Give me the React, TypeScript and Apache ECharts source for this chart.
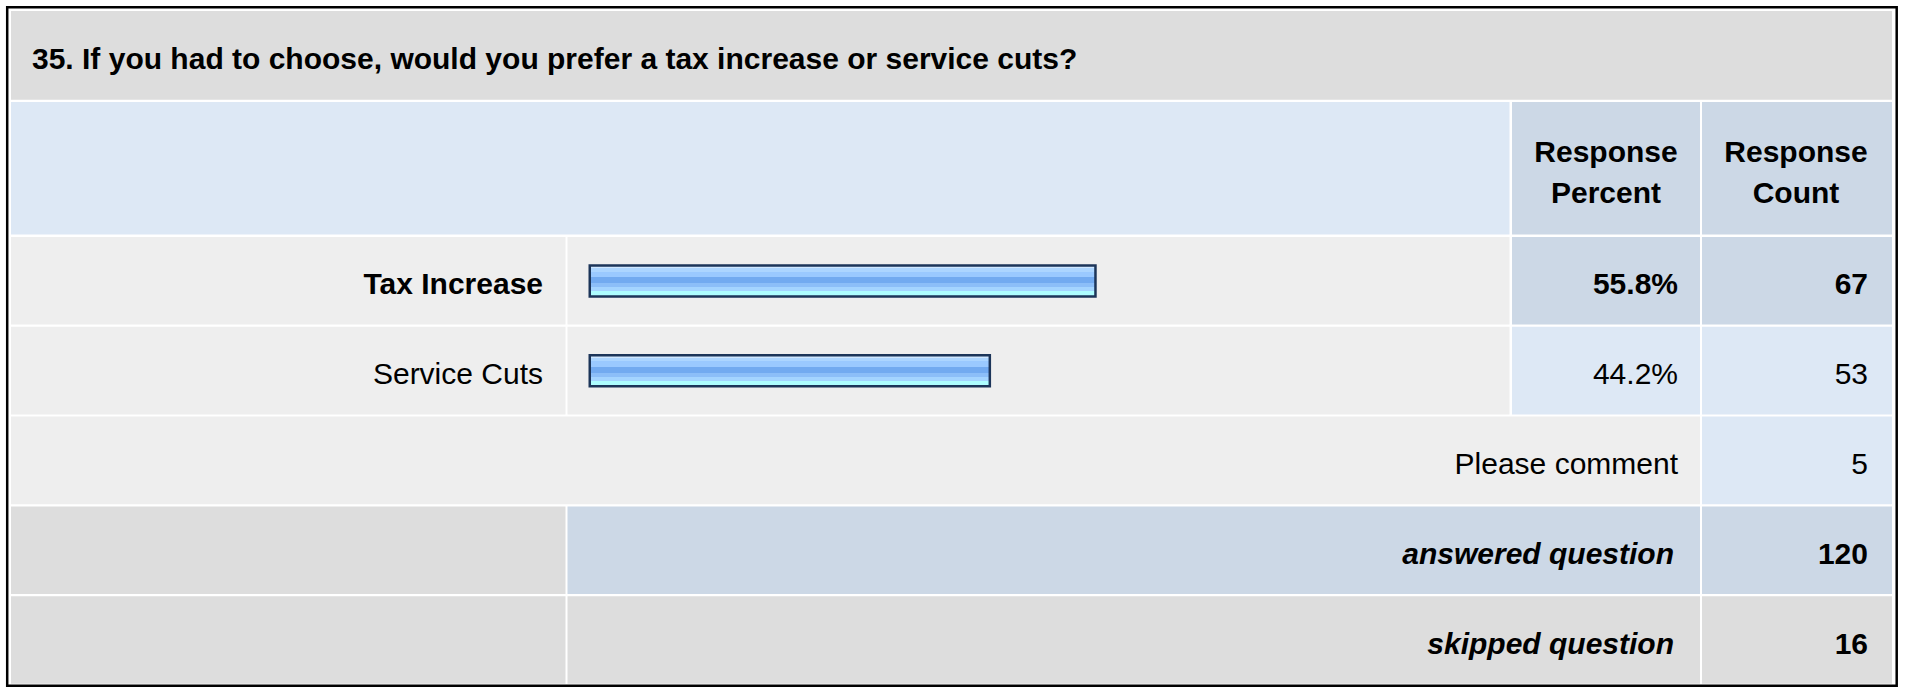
import React, { useEffect, useRef } from "react";
import * as echarts from "echarts";

// ---------- data ----------
const TITLE = "35. If you had to choose, would you prefer a tax increase or service cuts?";
const HEADERS = ["Response\nPercent", "Response\nCount"];
const CHOICES = ["Tax Increase", "Service Cuts"];
const PERCENTS = [55.8, 44.2];
const COUNTS = [67, 53];
const COMMENT_LABEL = "Please comment";
const COMMENT_COUNT = 5;
const SUMMARY_LABELS = ["answered question", "skipped question"];
const SUMMARY_COUNTS = [120, 16];
const AXIS_MAX = 100;

// ---------- layout / style ----------
const FONT = '"Liberation Sans", Arial, Helvetica, sans-serif';
const FS = 30;
const CENTRAL = 10.4; // distance baseline -> central baseline at 30px
const C1 = { x0: 11, x1: 565.5 };
const C2 = { x0: 567.5, x1: 1509.5 };
const C3 = { x0: 1512, x1: 1700 };
const C4 = { x0: 1702, x1: 1892 };
const TITLE_ROW = { y0: 11, y1: 99.8 };
const HEAD_ROW = { y0: 102, y1: 234.5 };
const ROW_TOP0 = 237;
const ROW_STEP = 89.8;
const ROW_H = 87.6;
const GREY = "#dddddd";
const LIGHT = "#eeeeee";
const BLUE = "#dde8f5";
const BLUE_DARK = "#ccd8e6";

const rowTop = (i: number) => ROW_TOP0 + i * ROW_STEP;
const textY = (i: number) => rowTop(i) + 57.3 - CENTRAL;

function cell(x0: number, x1: number, y0: number, y1: number, fill: string) {
  return {
    type: "rect",
    z: 0,
    silent: true,
    shape: { x: x0, y: y0, width: x1 - x0, height: y1 - y0 },
    style: { fill },
  };
}

function txt(
  text: string,
  x: number,
  y: number,
  align: string,
  weight: string = "normal",
  style: string = "normal",
  extra: any = {}
) {
  return {
    type: "text",
    z: 10,
    silent: true,
    x,
    y,
    style: {
      text,
      fill: "#000000",
      fontFamily: FONT,
      fontSize: FS,
      fontWeight: weight,
      fontStyle: style,
      align,
      verticalAlign: "middle",
      ...extra,
    },
  };
}

export default function App() {
  const ref = useRef<HTMLDivElement>(null);

  useEffect(() => {
    if (!ref.current) return;
    const chart = echarts.init(ref.current, undefined, { renderer: "svg" });

    const maxIdx = PERCENTS.indexOf(Math.max(...PERCENTS));
    const rowColors = [
      [LIGHT, LIGHT, BLUE_DARK, BLUE_DARK],
      [LIGHT, LIGHT, BLUE, BLUE],
    ];

    const elements: any[] = [];
    // outer border
    elements.push({
      type: "rect",
      z: 0,
      silent: true,
      shape: { x: 7.2, y: 7.2, width: 1889.5, height: 678.6 },
      style: { fill: "#ffffff", stroke: "#000000", lineWidth: 2.5 },
    });
    // title + header
    elements.push(cell(C1.x0, C4.x1, TITLE_ROW.y0, TITLE_ROW.y1, GREY));
    elements.push(cell(C1.x0, C2.x1, HEAD_ROW.y0, HEAD_ROW.y1, BLUE));
    elements.push(cell(C3.x0, C3.x1, HEAD_ROW.y0, HEAD_ROW.y1, BLUE_DARK));
    elements.push(cell(C4.x0, C4.x1, HEAD_ROW.y0, HEAD_ROW.y1, BLUE_DARK));
    // choice rows
    CHOICES.forEach((_, i) => {
      const y0 = rowTop(i);
      const y1 = y0 + ROW_H;
      const cols = [C1, C2, C3, C4];
      const colors = i === maxIdx ? rowColors[0] : rowColors[1];
      cols.forEach((c, k) => elements.push(cell(c.x0, c.x1, y0, y1, colors[k])));
    });
    // comment row
    {
      const i = CHOICES.length;
      const y0 = rowTop(i);
      elements.push(cell(C1.x0, C3.x1, y0, y0 + ROW_H, LIGHT));
      elements.push(cell(C4.x0, C4.x1, y0, y0 + ROW_H, BLUE));
    }
    // summary rows
    SUMMARY_LABELS.forEach((_, j) => {
      const i = CHOICES.length + 1 + j;
      const y0 = rowTop(i);
      const mid = j === 0 ? BLUE_DARK : GREY;
      elements.push(cell(C1.x0, C1.x1, y0, y0 + ROW_H, GREY));
      elements.push(cell(C2.x0, C3.x1, y0, y0 + ROW_H, mid));
      elements.push(cell(C4.x0, C4.x1, y0, y0 + ROW_H, mid));
    });

    // texts
    elements.push(txt(TITLE, 32, 69.3 - CENTRAL, "left", "bold"));
    elements.push(txt(HEADERS[0], (C3.x0 + C3.x1) / 2, 171.8, "center", "bold", "normal", { lineHeight: 41 }));
    elements.push(txt(HEADERS[1], 1796, 171.8, "center", "bold", "normal", { lineHeight: 41 }));

    PERCENTS.forEach((p, i) => {
      const w = i === maxIdx ? "bold" : "normal";
      elements.push(txt(`${p.toFixed(1)}%`, 1678, textY(i), "right", w));
      elements.push(txt(String(COUNTS[i]), 1868, textY(i), "right", w));
    });
    {
      const i = CHOICES.length;
      elements.push(txt(COMMENT_LABEL, 1678, textY(i), "right"));
      elements.push(txt(String(COMMENT_COUNT), 1868, textY(i), "right"));
    }
    SUMMARY_LABELS.forEach((lab, j) => {
      const i = CHOICES.length + 1 + j;
      elements.push(txt(lab, 1674, textY(i), "right", "bold", "italic"));
      elements.push(txt(String(SUMMARY_COUNTS[j]), 1868, textY(i), "right", "bold"));
    });

    const barGradient = new echarts.graphic.LinearGradient(0, 0, 0, 1, [
      { offset: 0, color: "#cfe7ff" },
      { offset: 0.09, color: "#cfe7ff" },
      { offset: 0.09, color: "#acd5ff" },
      { offset: 0.2, color: "#acd5ff" },
      { offset: 0.2, color: "#9ac9ff" },
      { offset: 0.39, color: "#9ac9ff" },
      { offset: 0.39, color: "#72aaf0" },
      { offset: 0.57, color: "#72aaf0" },
      { offset: 0.57, color: "#8cbef8" },
      { offset: 0.71, color: "#8cbef8" },
      { offset: 0.71, color: "#a4d4ff" },
      { offset: 0.82, color: "#a4d4ff" },
      { offset: 0.82, color: "#adfdff" },
      { offset: 1, color: "#adfdff" },
    ]);

    chart.setOption({
      animation: false,
      backgroundColor: "#ffffff",
      grid: { left: 588.5, top: 236, width: 910.8, height: 2 * ROW_STEP },
      xAxis: { type: "value", min: 0, max: AXIS_MAX, show: false },
      yAxis: {
        type: "category",
        data: CHOICES,
        inverse: true,
        z: 10,
        axisLine: { show: false },
        axisTick: { show: false },
        splitLine: { show: false },
        axisLabel: {
          margin: 45.5,
          padding: [6, 0, 0, 0],
          formatter: (v: string) =>
            CHOICES.indexOf(v) === maxIdx ? `{b|${v}}` : `{n|${v}}`,
          rich: {
            b: { fontFamily: FONT, fontSize: FS, fontWeight: "bold", color: "#000000" },
            n: { fontFamily: FONT, fontSize: FS, fontWeight: "normal", color: "#000000" },
          },
        },
      },
      graphic: { elements },
      series: [
        {
          type: "bar",
          z: 5,
          silent: true,
          data: PERCENTS,
          barWidth: 33.5,
          itemStyle: {
            color: barGradient,
            borderColor: "#1c3559",
            borderWidth: 2.5,
          },
        },
      ],
    });

    return () => chart.dispose();
  }, []);

  return (
    <div
      ref={ref}
      style={{ position: "fixed", left: 0, top: 0, width: 1907, height: 687 }}
    />
  );
}
